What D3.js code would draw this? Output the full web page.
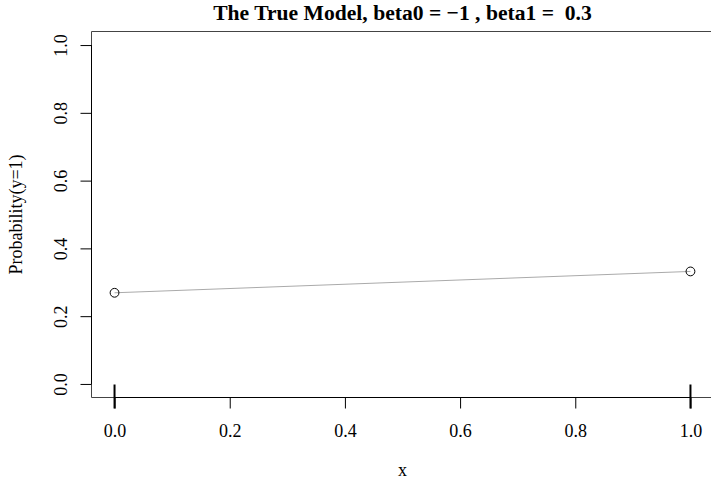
<!DOCTYPE html>
<html>
<head>
<meta charset="utf-8">
<script src="https://cdn.jsdelivr.net/npm/d3@7"></script>
<style>
  html, body { margin: 0; padding: 0; background: #fff; }
  svg { display: block; font-family: "Liberation Serif", "Times New Roman", serif; }
</style>
</head>
<body>
<svg id="chart" width="711" height="481"></svg>
<script>
// Logistic model: probability of y=1 at each x value
const xValues = [0, 1];
const probValues = [0.269, 0.332];
const xTicks = [0, 0.2, 0.4, 0.6, 0.8, 1.0];
const yTicks = [0, 0.2, 0.4, 0.6, 0.8, 1.0];
const titleText = "The True Model, beta0 = \u22121 , beta1 =  0.3";
const xLabel = "x";
const yLabel = "Probability(y=1)";

const svg = d3.select("#chart");
const serif = "Liberation Serif, Times New Roman, serif";

// Plot region (with 4% padding on each side of the data range)
const x = d3.scaleLinear().domain([-0.04, 1.04]).range([91.5, 713.5]);
const y = d3.scaleLinear().domain([-0.04, 1.04]).range([397.5, 31.5]);

const fmt = d3.format(".1f");

// Box: top, left and bottom edges
const box = svg.append("g").attr("stroke", "#444").attr("stroke-width", 1).attr("fill", "none");
box.append("line").attr("x1", x(-0.04)).attr("x2", x(1.04)).attr("y1", y(1.04)).attr("y2", y(1.04));
box.append("line").attr("x1", x(-0.04)).attr("x2", x(-0.04)).attr("y1", y(1.04)).attr("y2", y(-0.04));
box.append("line").attr("x1", x(-0.04)).attr("x2", x(1.04)).attr("y1", y(-0.04)).attr("y2", y(-0.04));

// Bottom axis
const xAxis = svg.append("g")
  .attr("transform", `translate(0,${y(-0.04)})`)
  .call(d3.axisBottom(x).tickValues(xTicks).tickFormat(fmt).tickSize(11).tickPadding(16).tickSizeOuter(0));
xAxis.select(".domain").attr("d", `M${x(0)},0H${x(1)}`).attr("stroke", "#000");
xAxis.selectAll(".tick line").attr("stroke", "#000");
xAxis.selectAll("text")
  .attr("font-size", 18).attr("fill", "#000")
  .attr("font-family", serif);

// Left axis with rotated labels
const yAxis = svg.append("g")
  .attr("transform", `translate(${x(-0.04)},0)`)
  .call(d3.axisLeft(y).tickValues(yTicks).tickFormat(fmt).tickSize(11).tickSizeOuter(0));
yAxis.select(".domain").attr("d", `M0,${y(0)}V${y(1)}`).attr("stroke", "#000");
yAxis.selectAll(".tick line").attr("stroke", "#000");
yAxis.selectAll("text")
  .attr("font-size", 18).attr("fill", "#000")
  .attr("font-family", serif)
  .attr("x", null)
  .attr("text-anchor", "middle")
  .attr("transform", "translate(-31,0) rotate(-90)")
  .attr("dy", "0.35em");

// Rug marks at the observed x values
svg.append("g").selectAll("line").data(xValues).join("line")
  .attr("x1", d => x(d)).attr("x2", d => x(d))
  .attr("y1", y(-0.04) - 13).attr("y2", y(-0.04) + 11)
  .attr("stroke", "#000").attr("stroke-width", 2);

// Connecting line
const line = d3.line().x((d, i) => x(xValues[i])).y(d => y(d));
svg.append("path").datum(probValues)
  .attr("d", line).attr("fill", "none").attr("stroke", "#aaa").attr("stroke-width", 1);

// Points
svg.append("g").selectAll("circle").data(probValues).join("circle")
  .attr("cx", (d, i) => x(xValues[i])).attr("cy", d => y(d))
  .attr("r", 4.4).attr("fill", "none").attr("stroke", "#000").attr("stroke-width", 1);

// Title
svg.append("text")
  .attr("x", (x(-0.04) + x(1.04)) / 2).attr("y", 20)
  .attr("text-anchor", "middle").attr("font-weight", "bold").attr("font-size", 21.6)
  .style("white-space", "pre")
  .text(titleText);

// Axis titles
svg.append("text")
  .attr("x", (x(-0.04) + x(1.04)) / 2).attr("y", 476)
  .attr("text-anchor", "middle").attr("font-size", 18)
  .text(xLabel);

svg.append("text")
  .attr("transform", `translate(22,${(y(-0.04) + y(1.04)) / 2}) rotate(-90)`)
  .attr("text-anchor", "middle").attr("font-size", 18)
  .text(yLabel);
</script>
</body>
</html>
